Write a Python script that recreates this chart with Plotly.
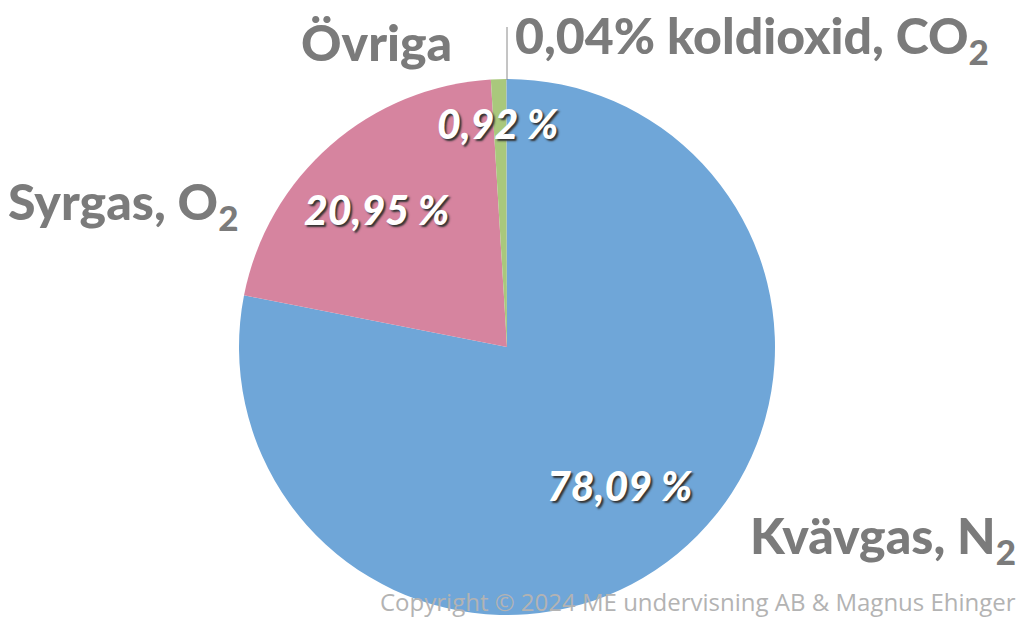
import plotly.graph_objects as go

labels = ["Kvävgas, N<sub>2</sub>", "Syrgas, O<sub>2</sub>", "Övriga", "0,04% koldioxid, CO<sub>2</sub>"]
values = [78.09, 20.95, 0.92, 0.04]
pct_text = ["78,09 %", "20,95 %", "0,92 %", ""]
colors = ["#6fa6d8", "#d6849f", "#a9c87c", "#8fb0c8"]
copyright_text = "Copyright © 2024 ME undervisning AB & Magnus Ehinger"

W, H = 1024, 622
cx, cy, r = 507, 347, 268

fig = go.Figure(go.Pie(
    labels=labels, values=values, sort=False, direction="clockwise", rotation=0,
    marker=dict(colors=colors, line=dict(width=0)),
    textinfo="none", hoverinfo="label+percent", showlegend=False,
    domain=dict(x=[(cx - r) / W, (cx + r) / W], y=[(H - cy - r) / H, (H - cy + r) / H]),
))

def px(x):
    return x / W

def py(y):
    return 1 - y / H

label_font = dict(family="Lato, DejaVu Sans", size=50, color="#7b7b7b", weight=900)
ann = []
# outside labels
ann.append(dict(text=labels[3], x=px(513), y=py(38), xanchor="left", yanchor="middle", font=label_font))
ann.append(dict(text=labels[2], x=px(454), y=py(42), xanchor="right", yanchor="middle", font=label_font))
ann.append(dict(text=labels[1], x=px(6), y=py(205), xanchor="left", yanchor="middle", font=label_font))
ann.append(dict(text=labels[0], x=px(1018), y=py(538), xanchor="right", yanchor="middle", font=label_font))
# inside percent labels
pct_font = dict(family="Lato, DejaVu Sans", size=41, color="white", weight=900, style="italic",
                shadow="2px 2px 2px #333")
ann.append(dict(text=pct_text[0], x=px(620), y=py(485), xanchor="center", yanchor="middle", font=pct_font))
ann.append(dict(text=pct_text[1], x=px(377), y=py(210), xanchor="center", yanchor="middle", font=pct_font))
ann.append(dict(text=pct_text[2], x=px(498), y=py(123), xanchor="center", yanchor="middle", font=pct_font))
# copyright
ann.append(dict(text=copyright_text, x=px(1018), y=py(601),
                xanchor="right", yanchor="middle",
                font=dict(family="Open Sans", size=24, color="#b3b3b3")))
for a in ann:
    a.update(xref="paper", yref="paper", showarrow=False)

fig.update_layout(
    width=W, height=H, margin=dict(l=0, r=0, t=0, b=0),
    paper_bgcolor="white", plot_bgcolor="white",
    annotations=ann,
    shapes=[dict(type="line", xref="paper", yref="paper", x0=px(507), x1=px(507), y0=py(27), y1=py(80),
                 line=dict(color="#8a8a8a", width=1))],
)
fig.write_html("out.html", config={"displayModeBar": False},
               post_script="document.body.style.margin='0';")
